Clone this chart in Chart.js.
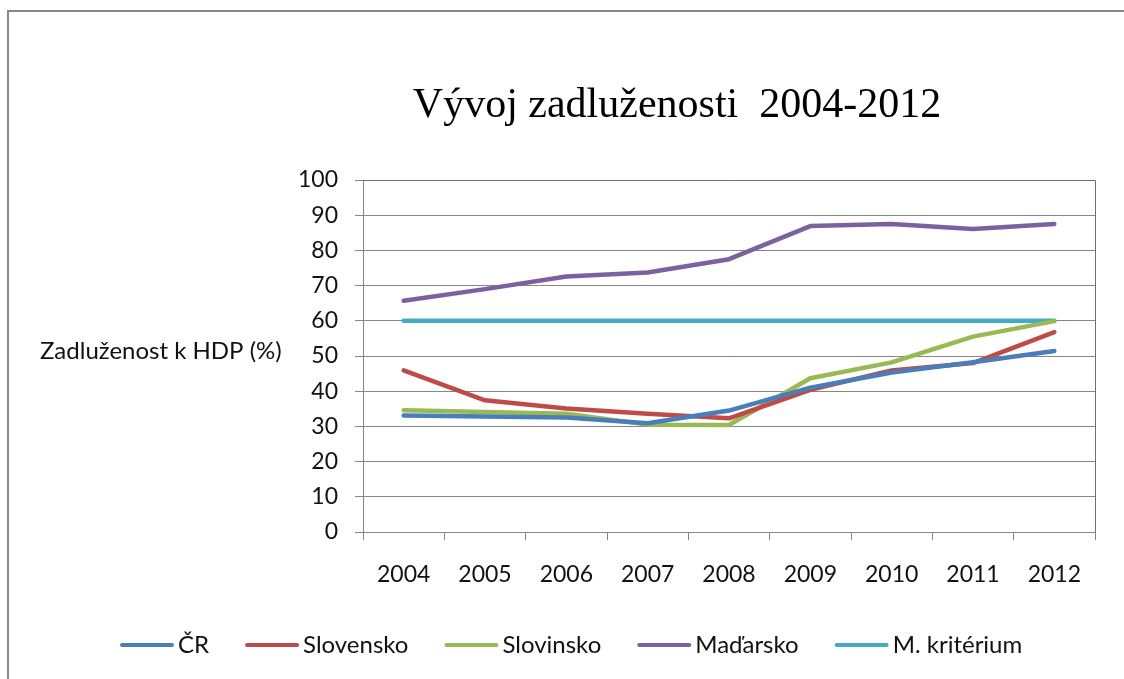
<!DOCTYPE html>
<html><head><meta charset="utf-8">
<script src="https://cdn.jsdelivr.net/npm/chart.js@4"></script>
<style>
html,body{margin:0;padding:0;background:#fff;overflow:hidden;}
#frame{position:absolute;left:7px;top:10px;width:3000px;height:3000px;border-left:2px solid #888;border-top:2px solid #888;}
#wrap{position:absolute;left:0;top:0;width:1124px;height:679px;}
</style></head><body>
<div id="frame"></div>
<div id="wrap"><canvas id="c" width="1124" height="679"></canvas></div>
<script>
const years = ['2004','2005','2006','2007','2008','2009','2010','2011','2012'];
const cr        = [33.1, 32.8, 32.5, 30.9, 34.5, 41.0, 45.3, 48.2, 51.4];
const slovensko = [45.9, 37.4, 35.1, 33.6, 32.3, 40.4, 45.9, 48.0, 56.8];
const slovinsko = [34.6, 34.1, 33.6, 30.5, 30.4, 43.7, 48.2, 55.5, 59.9];
const madarsko  = [65.7, 69.0, 72.6, 73.7, 77.5, 86.9, 87.5, 86.1, 87.5];
const kriterium = [60, 60, 60, 60, 60, 60, 60, 60, 60];
const seriesNames = ['ČR', 'Slovensko', 'Slovinsko', 'Maďarsko', 'M. kritérium'];
const seriesColors = ['#4A7EBB', '#BE4B48', '#98B954', '#7D60A0', '#46AAC5'];
const yMin = 0, yMax = 100, yStep = 10;
const titleText = 'Vývoj zadluženosti  2004-2012';
const yLabelText = 'Zadluženost k HDP (%)';

const FONT = 'Lato';
const series = [cr, slovensko, slovinsko, madarsko, kriterium];

const decor = {
  id: 'decor',
  beforeDatasetsDraw(chart) {
    const {ctx, chartArea: a} = chart;
    ctx.save();
    ctx.strokeStyle = '#6e6e6e';
    ctx.lineWidth = 1;
    ctx.beginPath();
    ctx.moveTo(a.left, Math.round(a.top) + 0.5);
    ctx.lineTo(Math.round(a.right) + 0.5, Math.round(a.top) + 0.5);
    ctx.lineTo(Math.round(a.right) + 0.5, a.bottom);
    ctx.stroke();
    ctx.restore();
  },
  afterDraw(chart) {
    const {ctx, chartArea: a} = chart;
    ctx.save();
    // title
    ctx.fillStyle = '#000';
    ctx.font = '42px "Liberation Serif"';
    ctx.textAlign = 'center';
    ctx.textBaseline = 'alphabetic';
    ctx.fillText(titleText, 677, 117);
    // horizontal y-axis label
    ctx.font = '24px ' + FONT;
    ctx.fillStyle = '#111';
    ctx.textAlign = 'left';
    ctx.fillText(yLabelText, 40, (a.top + a.bottom) / 2 + 3);
    // legend
    let x = 120;
    const y = 645;
    ctx.textBaseline = 'middle';
    chart.data.datasets.forEach(ds => {
      ctx.strokeStyle = ds.borderColor;
      ctx.lineWidth = 4;
      ctx.lineCap = 'round';
      ctx.beginPath();
      ctx.moveTo(x + 2, y);
      ctx.lineTo(x + 52, y);
      ctx.stroke();
      ctx.fillStyle = '#111';
      ctx.fillText(ds.label, x + 58, y);
      x += 58 + ctx.measureText(ds.label).width + 36;
    });
    ctx.restore();
  }
};

new Chart(document.getElementById('c'), {
  type: 'line',
  data: {
    labels: years,
    datasets: series.map((d, i) => ({
      label: seriesNames[i],
      data: d,
      borderColor: seriesColors[i],
      backgroundColor: seriesColors[i],
      borderWidth: 4.5,
      pointRadius: 0,
      tension: 0,
      borderJoinStyle: 'round',
      borderCapStyle: 'round',
      fill: false
    }))
  },
  options: {
    responsive: false,
    devicePixelRatio: 1,
    animation: false,
    layout: { padding: { left: 0, top: 180, right: 29, bottom: 87 } },
    plugins: { legend: { display: false }, title: { display: false }, tooltip: { enabled: false } },
    scales: {
      x: {
        offset: true,
        grid: { offset: true, drawOnChartArea: false, tickLength: 8, color: '#868686', lineWidth: 1 },
        border: { color: '#868686', width: 1 },
        ticks: { color: '#111', font: { family: FONT, size: 23 }, padding: 21, maxRotation: 0, autoSkip: false },
        afterFit(s) { s.height = 60; }
      },
      y: {
        min: yMin, max: yMax,
        grid: { tickLength: 8, color: '#868686', lineWidth: 1 },
        border: { color: '#868686', width: 1 },
        ticks: { stepSize: yStep, color: '#111', font: { family: FONT, size: 23 }, padding: 17 },
        afterFit(s) { s.width = 363; }
      }
    }
  },
  plugins: [decor]
});
</script>
</body></html>
